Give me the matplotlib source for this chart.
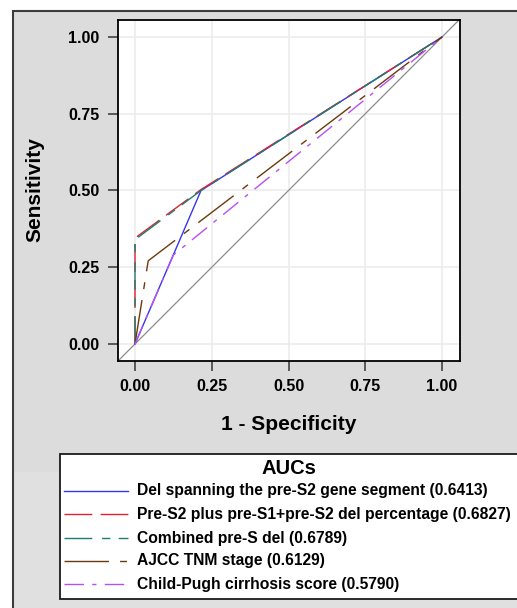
import matplotlib
matplotlib.use("Agg")
import matplotlib.pyplot as plt
from matplotlib.patches import Rectangle
from matplotlib.lines import Line2D

plt.rcParams['font.family'] = ['Liberation Sans', 'DejaVu Sans']
plt.rcParams['font.weight'] = 'bold'
plt.rcParams['lines.scale_dashes'] = False

# ROC curve points (1 - specificity, sensitivity)
fpr_del = [0, 0.215, 1]
tpr_del = [0, 0.5, 1]
fpr_pres2 = [0, 0, 0.215, 1]
tpr_pres2 = [0, 0.345, 0.503, 1]
fpr_comb = [0, 0, 0.215, 1]
tpr_comb = [0, 0.34, 0.5, 1]
fpr_ajcc = [0, 0.043, 1]
tpr_ajcc = [0, 0.271, 1]
fpr_cp = [0, 0.125, 1]
tpr_cp = [0, 0.29, 1]

labels = ['Del spanning the pre-S2 gene segment (0.6413)',
          'Pre-S2 plus pre-S1+pre-S2 del percentage (0.6827)',
          'Combined pre-S del (0.6789)',
          'AJCC TNM stage (0.6129)',
          'Child-Pugh cirrhosis score (0.5790)']
colors = ['#3535f5', '#e3202f', '#1b7f70', '#6b3a0c', '#b84ff5']
dashes = [None, (20, 6), (20, 7, 6, 6), (32, 8, 5, 8), (14, 6, 3, 6)]
curves = [(fpr_del, tpr_del), (fpr_pres2, tpr_pres2), (fpr_comb, tpr_comb),
          (fpr_ajcc, tpr_ajcc), (fpr_cp, tpr_cp)]
ticks = [0, 0.25, 0.5, 0.75, 1.0]
ticklabels = ['0.00', '0.25', '0.50', '0.75', '1.00']

W, H = 517, 608
fig = plt.figure(figsize=(W / 100, H / 100), dpi=100)

def fx(px):
    return px / W

def fy(py):
    return 1 - py / H

# grey panel behind everything
fig.add_artist(Rectangle((fx(13), fy(472)), fx(530) - fx(13), fy(10.5) - fy(472),
                         transform=fig.transFigure, facecolor='#dcdcdc',
                         edgecolor='none', zorder=-3))
fig.add_artist(Rectangle((fx(13), fy(620)), fx(530) - fx(13), fy(472) - fy(620),
                         transform=fig.transFigure, facecolor='#e0e0e0',
                         edgecolor='none', zorder=-3))
fig.add_artist(Rectangle((fx(13), fy(620)), fx(530) - fx(13), fy(10.5) - fy(620),
                         transform=fig.transFigure, facecolor='none',
                         edgecolor='#3c3c3c', lw=1.5, zorder=-2))

ax = fig.add_axes([fx(118), fy(361), (460 - 118) / W, (361 - 20) / H])
ax.set_facecolor('white')
ax.set_xlim(-0.0554, 1.0586)
ax.set_ylim(-0.0554, 1.0554)
ax.set_xticks(ticks)
ax.set_xticklabels(ticklabels)
ax.set_yticks(ticks)
ax.set_yticklabels(ticklabels)
ax.grid(color='#ebebeb', lw=1.1)
ax.set_axisbelow(True)
ax.tick_params(length=7, width=1.1, color='#333333', pad=6.3, labelsize=11.5,
               labelcolor='black')
for s in ax.spines.values():
    s.set_linewidth(1.3)
    s.set_color('black')

ax.axline((0, 0), (1, 1), color='#8c8c8c', lw=0.9)
for (x, y), c, d in zip(curves, colors, dashes):
    line, = ax.plot(x, y, color=c, lw=1.0)
    if d is not None:
        line.set_dashes(d)

fig.text(fx(35), fy(190), 'Sensitivity', rotation=90, ha='center', va='center',
         fontsize=15, fontweight='bold')
fig.text(fx(289), fy(424), '1 - Specificity', ha='center', va='center',
         fontsize=15, fontweight='bold')

# legend box
fig.add_artist(Rectangle((fx(59.5), fy(598.5)), fx(540) - fx(59.5), fy(454) - fy(598.5),
                         transform=fig.transFigure, facecolor='white',
                         edgecolor='#1a1a1a', lw=1.3, zorder=-1))
fig.text(fx(289), fy(468), 'AUCs', ha='center', va='center', fontsize=14.5,
         fontweight='bold')
row_y = [491, 514, 538, 561, 584]
for lab, c, d, yy in zip(labels, colors, dashes, row_y):
    ln = Line2D([fx(64), fx(128)], [fy(yy), fy(yy)], transform=fig.transFigure,
                color=c, lw=1.0)
    if d is not None:
        ln.set_dashes(d)
    fig.add_artist(ln)
    fig.text(fx(137), fy(yy), lab, ha='left', va='center', fontsize=11.25,
             fontweight='bold')

fig.savefig('out.png', dpi=100)
